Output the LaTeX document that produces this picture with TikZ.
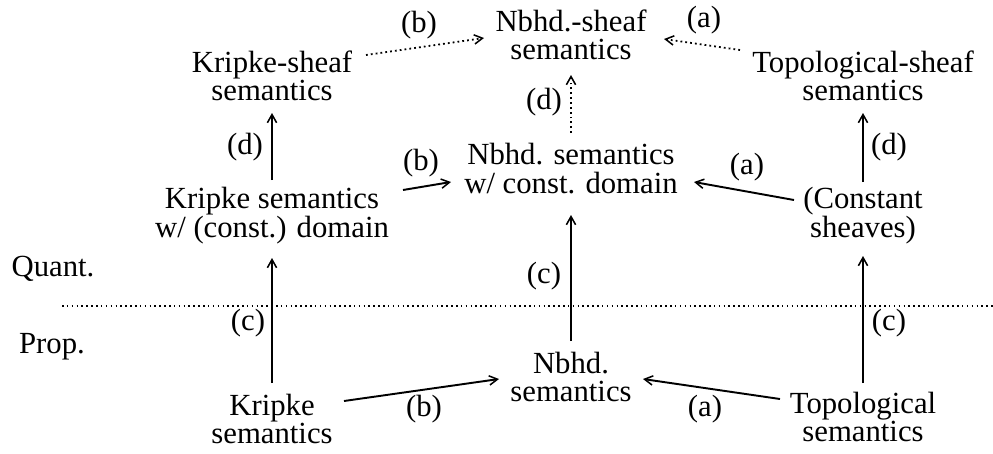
\documentclass[tikz,border=0pt]{standalone}
\usepackage{fontspec}
\setmainfont{Liberation Serif}
\usetikzlibrary{arrows.meta}
% two centred lines, baseline on the first one
\newcommand\twolines[2]{\begin{tabular}[t]{@{}c@{}}#1\\#2\end{tabular}}
\begin{document}
\begin{tikzpicture}[x=0.3906pt,y=-0.3906pt,
  sem/.style={inner sep=0pt,anchor=base,font=\fontsize{12}{11}\selectfont},
  lbl/.style={inner sep=0pt,anchor=center,font=\fontsize{12}{11}\selectfont},
  solidarr/.style={line width=0.75pt,-{Straight Barb[length=3.2pt,width=3.6pt,line width=0.6pt]}},
  dotarr/.style={line width=0.7pt,dash pattern=on 0.7pt off 1.2pt,
    -{Straight Barb[length=3.2pt,width=3.6pt,line width=0.6pt]}},
  divider/.style={line width=0.6pt,dash pattern=on 0.6pt off 1.3pt}]
\useasboundingbox (0,0) rectangle (993,453);

% quantified level
\node[sem] (ns) at (571,31)  {\twolines{Nbhd.-sheaf}{semantics}};
\node[sem] (ks) at (272,72)  {\twolines{Kripke-sheaf}{semantics}};
\node[sem] (ts) at (863,72)  {\twolines{Topological-sheaf}{semantics}};
\node[sem] (nc) at (571,164) {\twolines{Nbhd. semantics}{w/ const. domain}};
\node[sem] (kc) at (272,208) {\twolines{Kripke semantics}{w/ (const.) domain}};
\node[sem] (cs) at (863,208) {\twolines{(Constant}{sheaves)}};

% propositional level
\node[sem] (nb) at (571,373) {\twolines{Nbhd.}{semantics}};
\node[sem] (kb) at (272,415) {\twolines{Kripke}{semantics}};
\node[sem] (tb) at (863,413) {\twolines{Topological}{semantics}};

% level names and divider
\node[sem] (quant) at (53,276) {Quant.};
\node[sem] (prop)  at (52,353) {Prop.};
\coordinate (divL) at (62,306);
\coordinate (divR) at (993,306);
\draw[divider] (divL) -- (divR);

% sheaf arrows (dotted)
\draw[dotarr] ([shift={(94,-17)}]ks.base) -- ([shift={(-87,7)}]ns.base);
\draw[dotarr] ([shift={(-123,-22)}]ts.base) -- ([shift={(93,8)}]ns.base);
\draw[dotarr] ([shift={(0,-31)}]nc.base) -- ([shift={(0,44)}]ns.base);

% quantified arrows
\draw[solidarr] ([shift={(0,-28)}]kc.base) -- ([shift={(0,41)}]ks.base);
\draw[solidarr] ([shift={(0,-26)}]cs.base) -- ([shift={(0,41)}]ts.base);
\draw[solidarr] ([shift={(131,-18)}]kc.base) -- ([shift={(-120,18)}]nc.base);
\draw[solidarr] ([shift={(-69,-8)}]cs.base) -- ([shift={(123,18)}]nc.base);

% propositional to quantified
\draw[solidarr] ([shift={(0,-32)}]nb.base) -- ([shift={(0,51)}]nc.base);
\draw[solidarr] ([shift={(0,-32)}]kb.base) -- ([shift={(0,50)}]kc.base);
\draw[solidarr] ([shift={(0,-30)}]tb.base) -- ([shift={(0,48)}]cs.base);

% propositional arrows
\draw[solidarr] ([shift={(72,-14)}]kb.base) -- ([shift={(-72,6)}]nb.base);
\draw[solidarr] ([shift={(-83,-14)}]tb.base) -- ([shift={(72,6)}]nb.base);

% edge labels
\node[lbl] (l1)  at (419,25)  {(b)};
\node[lbl] (l2)  at (704,20)  {(a)};
\node[lbl] (l3)  at (544,102) {(d)};
\node[lbl] (l4)  at (245,147) {(d)};
\node[lbl] (l5)  at (889,147) {(d)};
\node[lbl] (l6)  at (421,163) {(b)};
\node[lbl] (l7)  at (747,167) {(a)};
\node[lbl] (l8)  at (544,276) {(c)};
\node[lbl] (l9)  at (248,323) {(c)};
\node[lbl] (l10) at (889,323) {(c)};
\node[lbl] (l11) at (424,409) {(b)};
\node[lbl] (l12) at (705,409) {(a)};
\end{tikzpicture}
\end{document}
